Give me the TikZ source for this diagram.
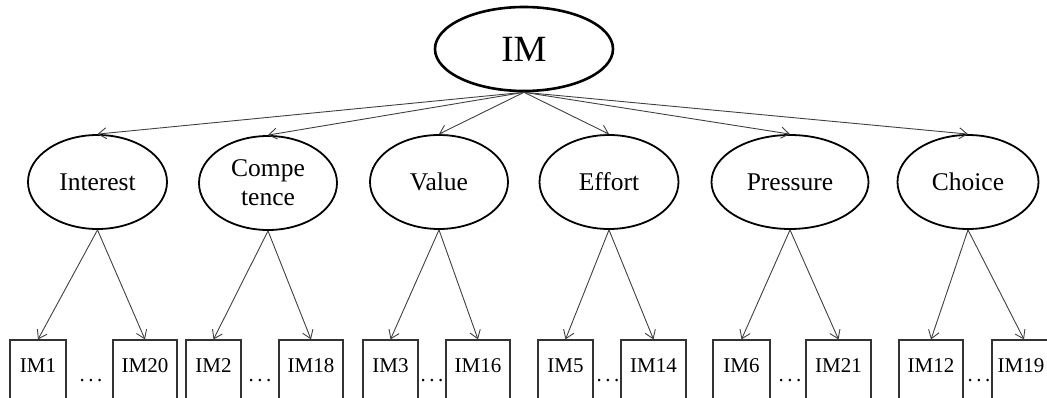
\documentclass[tikz,border=0pt]{standalone}
\usepackage{fontspec}
\setmainfont{Liberation Serif}
\usetikzlibrary{shapes.geometric,arrows.meta}
\begin{document}
\begin{tikzpicture}[x=1pt,y=-1pt,
 ell/.style={ellipse,draw=black,line width=1.8pt,minimum width=139pt,minimum height=94pt,inner sep=0pt,font=\fontsize{25.5}{29}\selectfont,align=center},
 one/.style={text height=16.5pt,text depth=0pt},
 ibox/.style={rectangle,draw=black!80,line width=1.2pt,minimum height=62pt,inner sep=0pt},
 ilab/.style={font=\fontsize{21}{24}\selectfont},
 dotlab/.style={font=\fontsize{21}{24}\selectfont,anchor=base,inner sep=0pt},
 arr/.style={draw=black!75,line width=0.9pt,-{Straight Barb[length=8pt,width=11pt]}},
]
\useasboundingbox (0,0) rectangle (1047,398);
\clip (0,0) rectangle (1047,398);

\node[ellipse,draw=black,line width=2.6pt,minimum width=178pt,minimum height=84pt,inner sep=0pt,font=\fontsize{37}{40}\selectfont] (IM) at (524,49) {IM};

\node[ell,one] (int) at (97.5,182) {Interest};
\node[ell,minimum width=138pt] (com) at (268,183) {Compe\\tence};
\node[ell,one,minimum width=138pt] (val) at (439,182) {Value};
\node[ell,one] (eff) at (609,182) {Effort};
\node[ell,one,minimum width=157pt] (pre) at (790,182) {Pressure};
\node[ell,one,minimum width=141pt] (cho) at (968,182) {Choice};

\foreach \e in {int,com,val,eff,pre,cho}{
  \draw[arr] (IM.south) -- (\e.north);
}

% boxes
\node[ibox,minimum width=56pt] (b1) at (38,371) {};
\node[ibox,minimum width=64pt] (b20) at (145,371) {};
\node[ibox,minimum width=55pt] (b2) at (213.5,371) {};
\node[ibox,minimum width=64pt] (b18) at (311,371) {};
\node[ibox,minimum width=55pt] (b3) at (390.5,371) {};
\node[ibox,minimum width=64pt] (b16) at (478,371) {};
\node[ibox,minimum width=55pt] (b5) at (565.5,371) {};
\node[ibox,minimum width=65pt] (b14) at (653.5,371) {};
\node[ibox,minimum width=57pt] (b6) at (741.5,371) {};
\node[ibox,minimum width=65pt] (b21) at (838.5,371) {};
\node[ibox,minimum width=64pt] (b12) at (931,371) {};
\node[ibox,minimum width=64pt] (b19) at (1024,371) {};

\node[ilab] (t1) at (38,366) {IM1};
\node[ilab] (t20) at (145,366) {IM20};
\node[ilab] (t2) at (213.5,366) {IM2};
\node[ilab] (t18) at (311,366) {IM18};
\node[ilab] (t3) at (390.5,366) {IM3};
\node[ilab] (t16) at (478,366) {IM16};
\node[ilab] (t5) at (565.5,366) {IM5};
\node[ilab] (t14) at (653.5,366) {IM14};
\node[ilab] (t6) at (741.5,366) {IM6};
\node[ilab] (t21) at (838.5,366) {IM21};
\node[ilab] (t12) at (931,366) {IM12};
\node[ilab] (t19) at (1021,366) {IM19};

\node[dotlab] (d1) at (91,381) {.\hspace{3.5pt}.\hspace{3.5pt}.};
\node[dotlab] (d2) at (260,381) {.\hspace{3.5pt}.\hspace{3.5pt}.};
\node[dotlab] (d3) at (432,381) {.\hspace{3.5pt}.\hspace{3.5pt}.};
\node[dotlab] (d4) at (608,381) {.\hspace{3.5pt}.\hspace{3.5pt}.};
\node[dotlab] (d5) at (790,381) {.\hspace{3.5pt}.\hspace{3.5pt}.};
\node[dotlab] (d6) at (979,381) {.\hspace{3.5pt}.\hspace{3.5pt}.};

\draw[arr] (int.south) -- (b1.north);
\draw[arr] (int.south) -- (b20.north);
\draw[arr] (com.south) -- (b2.north);
\draw[arr] (com.south) -- (b18.north);
\draw[arr] (val.south) -- (b3.north);
\draw[arr] (val.south) -- (b16.north);
\draw[arr] (eff.south) -- (b5.north);
\draw[arr] (eff.south) -- (b14.north);
\draw[arr] (pre.south) -- (b6.north);
\draw[arr] (pre.south) -- (b21.north);
\draw[arr] (cho.south) -- (b12.north);
\draw[arr] (cho.south) -- (b19.north);
\end{tikzpicture}
\end{document}
